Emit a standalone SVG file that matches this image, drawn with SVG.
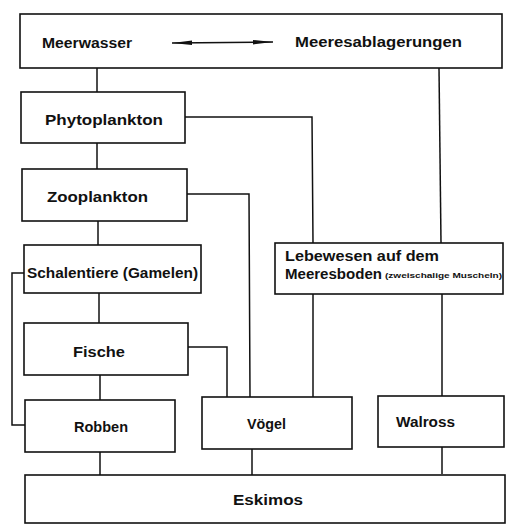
<svg xmlns="http://www.w3.org/2000/svg" width="515" height="525" viewBox="0 0 515 525">
<style>
.box{fill:#fff;stroke:#111;stroke-width:1.6}
.ln{fill:none;stroke:#111;stroke-width:1.5}
text{font-family:"Liberation Sans",Arial,sans-serif;font-weight:bold;font-size:14.5px;fill:#111}
.sm{font-size:7px}
</style>
<defs>
<marker id="ah" viewBox="0 0 20 6" refX="20" refY="3" markerWidth="20" markerHeight="6" markerUnits="userSpaceOnUse" orient="auto-start-reverse">
<path d="M0,0.8 L20,3 L0,5.2 Z" fill="#111"/>
</marker>
</defs>
<rect width="515" height="525" fill="#fff"/>
<g id="connectors">
<line class="ln" x1="97" y1="68" x2="97" y2="92"/>
<line class="ln" x1="439" y1="68" x2="441" y2="243"/>
<line class="ln" x1="97" y1="143" x2="97" y2="169"/>
<polyline class="ln" points="185,117 312,117 313,243"/>
<polyline class="ln" points="187,194 249,194 250,397"/>
<line class="ln" x1="98" y1="221" x2="98" y2="245"/>
<polyline class="ln" points="24,273 12,273 12,425 25,425"/>
<line class="ln" x1="99" y1="293" x2="99" y2="323"/>
<polyline class="ln" points="188,347 227,347 227,397"/>
<line class="ln" x1="313" y1="293" x2="313" y2="397"/>
<line class="ln" x1="442" y1="293" x2="442" y2="396"/>
<line class="ln" x1="100" y1="375" x2="100" y2="400"/>
<line class="ln" x1="100" y1="452" x2="100" y2="476"/>
<line class="ln" x1="252" y1="449" x2="252" y2="475"/>
<line class="ln" x1="442" y1="447" x2="442" y2="474"/>
</g>
<g id="top">
<rect class="box" x="20" y="14" width="482" height="54"/>
<text x="42" y="48" textLength="90" lengthAdjust="spacingAndGlyphs">Meerwasser</text>
<line class="ln" x1="172" y1="43" x2="273" y2="42" marker-start="url(#ah)" marker-end="url(#ah)"/>
<text x="295" y="47" textLength="167" lengthAdjust="spacingAndGlyphs">Meeresablagerungen</text>
</g>
<g id="phytoplankton">
<rect class="box" x="21" y="92" width="164" height="51"/>
<text x="45" y="125" textLength="118" lengthAdjust="spacingAndGlyphs">Phytoplankton</text>
</g>
<g id="zooplankton">
<rect class="box" x="22" y="169" width="165" height="52"/>
<text x="47" y="202" textLength="101" lengthAdjust="spacingAndGlyphs">Zooplankton</text>
</g>
<g id="schalentiere">
<rect class="box" x="24" y="245" width="177" height="48"/>
<text x="27" y="278" textLength="171" lengthAdjust="spacingAndGlyphs">Schalentiere (Gamelen)</text>
</g>
<g id="lebewesen">
<rect class="box" x="275" y="243" width="228" height="51"/>
<text x="285" y="261" textLength="154" lengthAdjust="spacingAndGlyphs">Lebewesen auf dem</text>
<text x="285" y="279" textLength="97" lengthAdjust="spacingAndGlyphs">Meeresboden</text>
<text class="sm" x="385" y="278" textLength="117" lengthAdjust="spacingAndGlyphs">(zweischalige Muscheln)</text>
</g>
<g id="fische">
<rect class="box" x="24" y="323" width="164" height="52"/>
<text x="73" y="357" textLength="52" lengthAdjust="spacingAndGlyphs">Fische</text>
</g>
<g id="robben">
<rect class="box" x="25" y="400" width="150" height="52"/>
<text x="74" y="432" textLength="54" lengthAdjust="spacingAndGlyphs">Robben</text>
</g>
<g id="voegel">
<rect class="box" x="202" y="397" width="150" height="52"/>
<text x="247" y="429" textLength="39" lengthAdjust="spacingAndGlyphs">Vögel</text>
</g>
<g id="walross">
<rect class="box" x="378" y="396" width="126" height="51"/>
<text x="396" y="427" textLength="59" lengthAdjust="spacingAndGlyphs">Walross</text>
</g>
<g id="eskimos">
<rect class="box" x="25" y="475" width="480" height="48"/>
<text x="233" y="505" textLength="70" lengthAdjust="spacingAndGlyphs">Eskimos</text>
</g>
</svg>
